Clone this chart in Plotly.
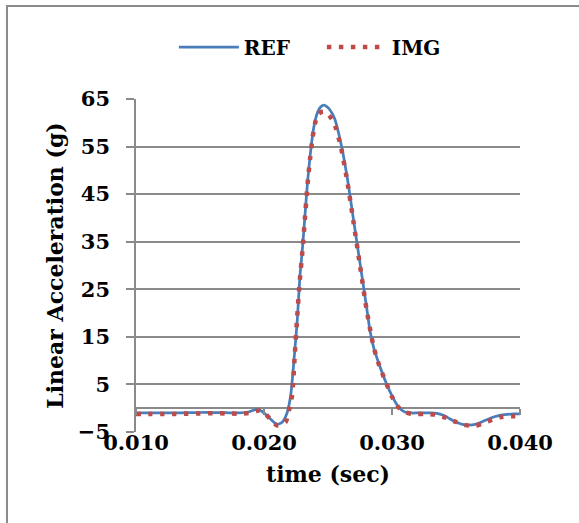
import plotly.graph_objects as go

# time in seconds
t_ref = [0.0100, 0.0110, 0.0120, 0.0130, 0.0140, 0.0150, 0.0160, 0.0170, 0.0180, 0.0188,
         0.0194, 0.0198, 0.0204, 0.0210, 0.0214, 0.0218, 0.0221, 0.0224, 0.0226, 0.0228,
         0.0230, 0.0232, 0.0234, 0.0236, 0.0238, 0.0240, 0.0242, 0.02445, 0.0247, 0.0249,
         0.0251, 0.0255, 0.0260, 0.0265, 0.0270, 0.0275, 0.0280, 0.0283, 0.0286, 0.0290,
         0.0295, 0.0300, 0.0305, 0.0310, 0.0315, 0.0320, 0.0325, 0.0330, 0.0335, 0.0340,
         0.0345, 0.0350, 0.0355, 0.0360, 0.0365, 0.0370, 0.0375, 0.0380, 0.0385, 0.0390,
         0.0395, 0.0400]
ref = [-1.0, -1.0, -1.0, -1.0, -0.95, -0.9, -0.9, -0.95, -1.0, -0.8,
       -0.25, -0.6, -2.0, -3.4, -3.0, -1.0, 3.0, 12.0, 18.5, 27.5,
       33.5, 40.5, 47.5, 53.0, 57.5, 60.5, 62.3, 63.4, 63.7, 63.4,
       62.9, 61.0, 55.8, 48.5, 39.5, 30.5, 21.5, 16.0, 12.4, 9.2,
       5.6, 2.6, 0.3, -0.8, -1.0, -1.0, -1.0, -1.0, -1.1, -1.5,
       -2.2, -2.9, -3.4, -3.55, -3.4, -2.9, -2.3, -1.8, -1.45, -1.3,
       -1.2, -1.2]

t_img = [0.0100, 0.0110, 0.0120, 0.0130, 0.0140, 0.0150, 0.0160, 0.0170, 0.0180, 0.0188,
         0.0196, 0.0200, 0.0205, 0.0210, 0.0214, 0.0217, 0.02195, 0.0222, 0.0224, 0.0226,
         0.0228, 0.0230, 0.0232, 0.0234, 0.0236, 0.0238, 0.0240, 0.0242, 0.0245, 0.0248,
         0.0251, 0.0255, 0.0260, 0.0265, 0.0270, 0.0275, 0.0280, 0.0284, 0.0286, 0.0290,
         0.0295, 0.0300, 0.0305, 0.0310, 0.0315, 0.0320, 0.0325, 0.0330, 0.0335, 0.0340,
         0.0345, 0.0350, 0.0355, 0.0360, 0.0365, 0.0370, 0.0375, 0.0380, 0.0385, 0.0390,
         0.0395, 0.0400]
img = [-1.2, -1.2, -1.2, -1.2, -1.15, -1.1, -1.05, -1.1, -1.15, -1.0,
       -0.5, -0.9, -2.3, -3.6, -3.4, -2.9, -0.5, 2.8, 11.0, 19.5,
       27.0, 33.0, 40.0, 47.0, 52.5, 57.0, 60.0, 61.7, 62.3, 62.3,
       61.5, 59.8, 55.0, 47.8, 39.0, 30.0, 21.0, 15.0, 12.5, 9.0,
       5.6, 2.4, 0.2, -0.8, -1.15, -1.2, -1.2, -1.25, -1.4, -1.8,
       -2.3, -2.9, -3.4, -3.65, -3.7, -3.3, -2.75, -2.25, -1.85, -1.7,
       -1.7, -1.7]

x_ticks = [0.010, 0.020, 0.030, 0.040]
y_ticks = [-5, 5, 15, 25, 35, 45, 55, 65]

FONT = "DejaVu Serif"
GRID = "#8a8a8a"

fig = go.Figure()
fig.add_trace(go.Scatter(x=t_ref, y=ref, name="REF", mode="lines",
                         line=dict(color="#4a7ebb", width=2.75, shape="spline", smoothing=0.6)))
fig.add_trace(go.Scatter(x=t_img, y=img, name="IMG", mode="lines",
                         line=dict(color="#be4b48", width=4.5, dash="4.5px,7.5px",
                                   shape="spline", smoothing=0.6)))
# invisible trace to host the tick marks on the y=0 axis
fig.add_trace(go.Scatter(x=[x_ticks[0]], y=[0], xaxis="x2", mode="lines",
                         showlegend=False, hoverinfo="skip", line=dict(width=0)))

fig.update_layout(
    width=579, height=523,
    margin=dict(l=136, r=59, t=99, b=91),
    paper_bgcolor="white", plot_bgcolor="white",
    font=dict(family=FONT, size=21, color="black", weight="bold"),
    showlegend=True,
    legend=dict(orientation="h", x=0.484, y=1.156, xanchor="center", yanchor="middle",
                font=dict(family=FONT, size=20, weight="bold"), itemwidth=60,
                entrywidth=73, entrywidthmode="pixels",
                bgcolor="rgba(0,0,0,0)"),
    xaxis=dict(range=[0.010, 0.040], tickvals=x_ticks, tickformat=".3f",
               showgrid=False, showline=False, zeroline=False, ticks="",
               ticklabelstandoff=-4,
               tickfont=dict(family=FONT, size=21, weight="bold"),
               title=dict(text="time (sec)", standoff=12,
                          font=dict(family=FONT, size=22, weight="bold"))),
    xaxis2=dict(range=[0.010, 0.040], tickvals=x_ticks, overlaying="x", anchor="free",
                position=5 / 70, side="bottom", showticklabels=False, showgrid=False,
                showline=False, zeroline=False, ticks="outside", ticklen=6,
                tickcolor=GRID, tickwidth=1.5),
    yaxis=dict(range=[-5, 65], tickvals=y_ticks, showgrid=True, gridcolor=GRID,
               gridwidth=1.5, showline=True, linecolor=GRID, linewidth=1.5,
               zeroline=True, zerolinecolor=GRID, zerolinewidth=1.5,
               ticks="outside", ticklen=8, tickcolor=GRID, tickwidth=1.5,
               ticklabelstandoff=12,
               tickfont=dict(family=FONT, size=21, weight="bold"),
               title=dict(text="Linear Acceleration (g)", standoff=8,
                          font=dict(family=FONT, size=22, weight="bold"))),
    shapes=[dict(type="rect", xref="paper", yref="paper",
                 x0=-0.336, x1=1.3, y0=-0.35, y1=1.279,
                 line=dict(color="#8a8a8a", width=2), fillcolor="rgba(0,0,0,0)",
                 layer="below")],
)

fig.write_html("out.html")
